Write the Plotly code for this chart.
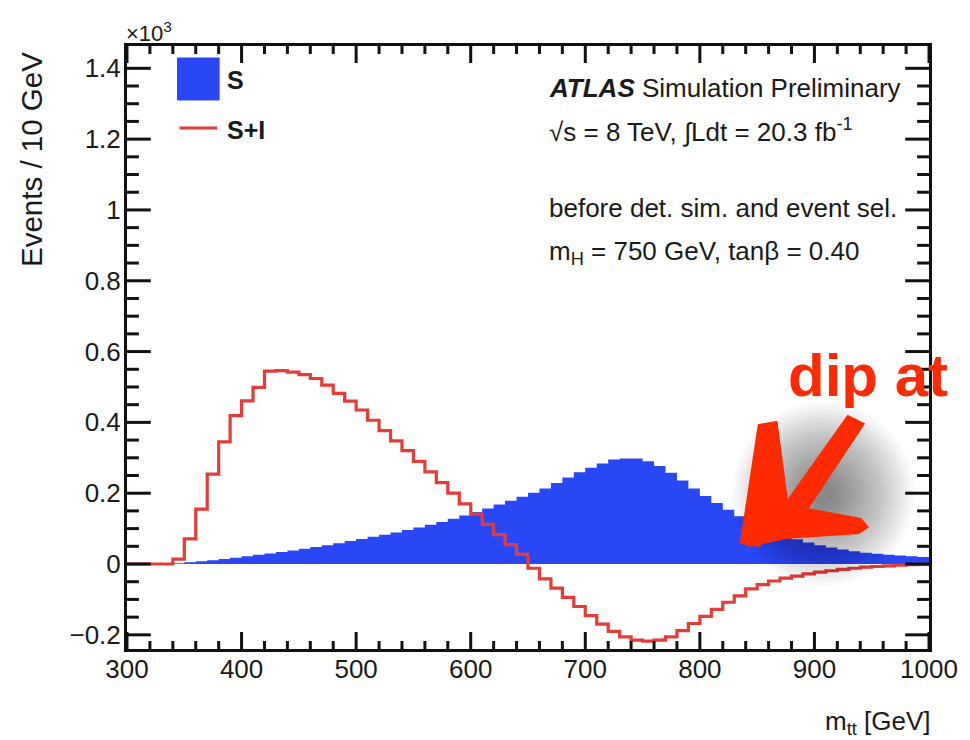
import plotly.graph_objects as go

# m_tt binning: 10 GeV bins from 300 to 1000 GeV
bin_edges = list(range(300, 1001, 10))

# Signal only (S), events per bin in units of 10^3
signal = [
    0.0, 0.0, 0.0, 0.0, 0.002, 0.005, 0.008, 0.011, 0.014, 0.018,
    0.022, 0.026, 0.030, 0.034, 0.038, 0.043, 0.048, 0.053, 0.059, 0.065,
    0.071, 0.077, 0.083, 0.089, 0.096, 0.103, 0.111, 0.119, 0.128, 0.137,
    0.147, 0.157, 0.168, 0.179, 0.190, 0.201, 0.213, 0.229, 0.244, 0.259,
    0.272, 0.284, 0.295, 0.298, 0.298, 0.290, 0.277, 0.258, 0.236, 0.213,
    0.192, 0.172, 0.153, 0.135, 0.119, 0.105, 0.092, 0.080, 0.070, 0.061,
    0.053, 0.047, 0.041, 0.036, 0.032, 0.029, 0.026, 0.024, 0.022, 0.020,
]

# Signal + interference (S+I)
signal_interf = [
    0.0, 0.0, 0.0, 0.0, 0.014, 0.071, 0.155, 0.254, 0.345, 0.419,
    0.461, 0.499, 0.545, 0.546, 0.542, 0.535, 0.524, 0.505, 0.482, 0.460,
    0.435, 0.406, 0.377, 0.348, 0.320, 0.290, 0.260, 0.230, 0.200, 0.170,
    0.141, 0.112, 0.083, 0.055, 0.027, -0.012, -0.042, -0.068, -0.094, -0.120,
    -0.146, -0.170, -0.190, -0.206, -0.215, -0.218, -0.215, -0.206, -0.188, -0.168,
    -0.148, -0.128, -0.108, -0.090, -0.070, -0.058, -0.048, -0.040, -0.034, -0.028,
    -0.023, -0.019, -0.015, -0.012, -0.009, -0.007, -0.005, -0.003, -0.002, -0.001,
]

# axis divisions
x_ticks = [300, 400, 500, 600, 700, 800, 900, 1000]
x_minor_ticks = list(range(300, 1001, 20))
y_ticks = [-0.2, 0, 0.2, 0.4, 0.6, 0.8, 1.0, 1.2, 1.4]
y_ticktext = ["\u22120.2", "0", "0.2", "0.4", "0.6", "0.8", "1", "1.2", "1.4"]
y_minor_ticks = [round(-0.2 + 0.05 * k, 2) for k in range(33)]
y_range = [-0.24, 1.463]

BLUE = "#2a47f6"
RED = "#e63b36"
ARROW_RED = "#ff2a00"
FONT = "Liberation Sans, Arial, Helvetica, sans-serif"
TXT = "#1a1a1a"
AXIS = "#111111"

W, H = 970, 740
L, R, T, B = 127, 33, 46, 91
PW, PH = W - L - R, H - T - B


def fx(px):
    """Pixel column -> paper x."""
    return (px - L) / PW


def fy(py):
    """Pixel row -> paper y."""
    return (H - B - py) / PH


def poly(points):
    """SVG path (paper coordinates) from a list of pixel points."""
    parts = []
    for i, (px, py) in enumerate(points):
        parts.append(("M" if i == 0 else "L") + f"{fx(px):.5f},{fy(py):.5f}")
    return " ".join(parts) + " Z"


# step outlines: one point per bin edge, last value repeated
step_x = bin_edges
sig_y = signal + [signal[-1]]
si_y = signal_interf + [signal_interf[-1]]

fig = go.Figure()
fig.add_trace(go.Scatter(
    x=step_x, y=sig_y, mode="lines", line=dict(width=0, shape="hv", color=BLUE),
    fill="tozeroy", fillcolor=BLUE, name="S", showlegend=False, hoverinfo="skip",
))
fig.add_trace(go.Scatter(
    x=step_x, y=si_y, mode="lines", line=dict(width=3.2, shape="hv", color=RED),
    name="S+I", showlegend=False,
))

shapes = []

# ROOT-style inward ticks on all four sides of the frame
tick_w = 3
for xv in x_minor_ticks:
    ln = 17 if xv in x_ticks else 8
    for base, sgn in ((0.0, 1), (1.0, -1)):
        shapes.append(dict(type="line", xref="x", yref="paper",
                           x0=xv, x1=xv, y0=base, y1=base + sgn * ln / PH,
                           line=dict(color=AXIS, width=tick_w), layer="above"))
major_y = [round(v, 2) for v in y_ticks]
for yv in y_minor_ticks:
    if not (y_range[0] <= yv <= y_range[1]):
        continue
    ln = 24 if yv in major_y else 12
    for base, sgn in ((0.0, 1), (1.0, -1)):
        shapes.append(dict(type="line", xref="paper", yref="y",
                           x0=base, x1=base + sgn * ln / PW, y0=yv, y1=yv,
                           line=dict(color=AXIS, width=tick_w), layer="above"))

# soft drop shadow behind the hand-drawn arrow
cx, cy = 830, 494
for r in range(92, 8, -3):
    shapes.append(dict(
        type="circle", xref="paper", yref="paper",
        x0=fx(cx - r), x1=fx(cx + r), y0=fy(cy + r), y1=fy(cy - r),
        fillcolor="rgba(0,0,0,0.019)", line=dict(width=0), layer="above",
    ))

# arrow: upright barb, lower barb and shaft
left_barb = [(747, 543), (765, 425), (783, 422), (796, 518), (765, 546)]
lower_barb = [(750, 541), (798, 506), (868, 519), (875, 527), (866, 533), (792, 538), (756, 546)]
shaft = [(787, 511), (855, 416), (871, 424), (806, 521)]
for pts in (left_barb, lower_barb, shaft):
    shapes.append(dict(
        type="path", xref="paper", yref="paper", path=poly(pts),
        fillcolor=ARROW_RED, line=dict(color=ARROW_RED, width=2), layer="above",
    ))

# legend markers
shapes.append(dict(
    type="rect", xref="paper", yref="paper",
    x0=fx(178), x1=fx(220), y0=fy(100), y1=fy(58),
    fillcolor=BLUE, line=dict(color=BLUE, width=1), layer="above",
))
shapes.append(dict(
    type="line", xref="paper", yref="paper",
    x0=fx(180), x1=fx(218), y0=fy(128), y1=fy(128),
    line=dict(color=RED, width=3.2), layer="above",
))

annotations = [
    dict(text="<b>S</b>", x=fx(226), y=fy(80), xanchor="left", yanchor="middle",
         font=dict(size=25, color=TXT)),
    dict(text="<b>S+I</b>", x=fx(226), y=fy(130), xanchor="left", yanchor="middle",
         font=dict(size=25, color=TXT)),
    dict(text="<b><i>ATLAS</i></b> Simulation Preliminary", x=fx(551), y=fy(88),
         xanchor="left", yanchor="middle", font=dict(size=26, color=TXT)),
    dict(text="\u221as = 8 TeV, \u222bLdt = 20.3 fb<sup>-1</sup>", x=fx(551), y=fy(130),
         xanchor="left", yanchor="middle", font=dict(size=26, color=TXT)),
    dict(text="before det. sim. and event sel.", x=fx(551), y=fy(208),
         xanchor="left", yanchor="middle", font=dict(size=26, color=TXT)),
    dict(text="m<sub>H</sub> = 750 GeV, tan\u03b2 = 0.40", x=fx(551), y=fy(252),
         xanchor="left", yanchor="middle", font=dict(size=26, color=TXT)),
    dict(text="Events / 10 GeV", textangle=-90, x=fx(30), y=fy(159),
         xanchor="center", yanchor="middle", font=dict(size=29.5, color=TXT)),
    dict(text="m<sub>tt</sub> [GeV]", x=fx(940), y=fy(722),
         xanchor="right", yanchor="middle", font=dict(size=26, color=TXT)),
    dict(text="\u00d710<sup>3</sup>", x=fx(124), y=fy(32),
         xanchor="left", yanchor="middle", font=dict(size=22, color=TXT)),
    dict(text="<b>dip at</b>", x=fx(793), y=fy(376),
         xanchor="left", yanchor="middle", font=dict(size=60, color=ARROW_RED)),
]
for a in annotations:
    a.update(xref="paper", yref="paper", showarrow=False)

axis_common = dict(
    showline=True, linecolor=AXIS, linewidth=3, mirror=True,
    ticks="", showgrid=False, zeroline=False,
    tickfont=dict(size=26, color=TXT, family=FONT),
)

fig.update_layout(
    width=W, height=H,
    margin=dict(l=L, r=R, t=T, b=B),
    paper_bgcolor="white", plot_bgcolor="white",
    font=dict(family=FONT, color=TXT),
    shapes=shapes, annotations=annotations,
    showlegend=False,
    xaxis=dict(
        range=[x_ticks[0], x_ticks[-1]], tickmode="array", tickvals=x_ticks,
        ticklabelstandoff=-5,
        **axis_common,
    ),
    yaxis=dict(
        range=y_range, tickmode="array", tickvals=y_ticks, ticktext=y_ticktext,
        ticklabelstandoff=-2,
        **axis_common,
    ),
)

fig.write_html("out.html")
